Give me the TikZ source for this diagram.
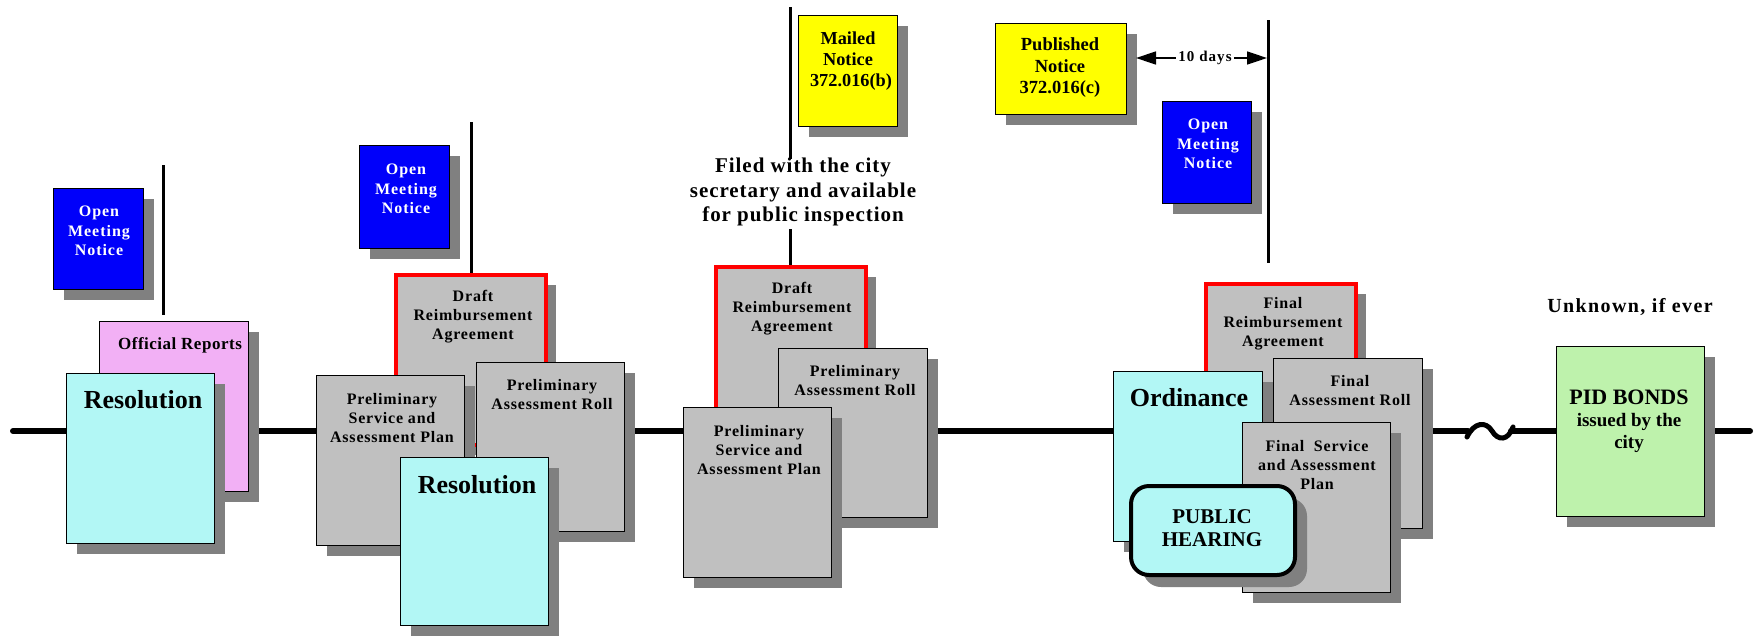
\documentclass[tikz,border=0pt]{standalone}
\usepackage{fontspec}
\setmainfont{Liberation Serif}
\usetikzlibrary{arrows.meta,shadows}

\definecolor{docgray}{RGB}{192,192,192}
\definecolor{shadowgray}{RGB}{128,128,128}
\definecolor{sheetcyan}{RGB}{178,247,245}
\definecolor{sheetpink}{RGB}{242,176,245}
\definecolor{sheetblue}{RGB}{0,0,250}
\definecolor{sheetyellow}{RGB}{255,255,0}
\definecolor{sheetgreen}{RGB}{190,242,172}
\definecolor{markred}{RGB}{255,0,0}

\tikzset{
  sheet/.style={draw=black, line width=1.2pt, inner sep=0pt, anchor=north west,
    drop shadow={shadow xshift=10pt, shadow yshift=-10pt, fill=shadowgray, opacity=1}},
  graysheet/.style={sheet, fill=docgray},
  redsheet/.style={sheet, fill=docgray, draw=markred, line width=3.5pt},
  cyansheet/.style={sheet, fill=sheetcyan},
  bluesheet/.style={sheet, fill=sheetblue},
  yellowsheet/.style={sheet, fill=sheetyellow},
  pinksheet/.style={sheet, fill=sheetpink},
  greensheet/.style={sheet, fill=sheetgreen},
  doctext/.style={align=center, inner sep=0pt,
    font=\fontsize{16}{19}\selectfont\bfseries\addfontfeature{LetterSpace=5}},
  noticetext/.style={align=center, inner sep=0pt, text=white,
    font=\fontsize{16}{19.5}\selectfont\bfseries\addfontfeature{LetterSpace=6}},
  yellowtext/.style={align=center, inner sep=0pt,
    font=\fontsize{18.3}{21}\selectfont\bfseries},
  titletext/.style={inner sep=0pt, font=\fontsize{26}{30}\selectfont\bfseries},
  timeline/.style={line width=6pt, line cap=round},
  marker/.style={line width=3pt},
}

% box from its top left corner (x1,y1) to bottom right corner (x2,y2)
\newcommand\sheetbox[6]{%
  \node[#1, minimum width={(#5-#3)*1pt}, minimum height={(#6-#4)*1pt}] (#2) at (#3,#4) {};}

\begin{document}
\begin{tikzpicture}[x=1pt, y=-1pt]
\useasboundingbox[fill=white] (0,0) rectangle (1756,635);

% main time line with a break before the bonds
\coordinate (tl0) at (13,431);
\coordinate (tl1) at (1468,431);
\coordinate (tl2) at (1511,431);
\coordinate (tl3) at (1750,431);
\draw[timeline] (tl0) -- (tl1);
\draw[timeline] (tl2) -- (tl3);
\draw[line width=5pt, line cap=round] (1467,437) .. controls (1474,422) and (1486,421) .. (1492,431)
  .. controls (1498,441) and (1508,441) .. (1513,427);

% ---- first resolution
\sheetbox{bluesheet}{omn1}{53}{188}{143}{289}
\node[noticetext] (omn1t) at (99,231) {Open\\Meeting\\Notice};
\sheetbox{pinksheet}{reports}{99}{321}{248}{491}
\coordinate (v1) at (163,165);
\draw[marker] (v1) -- ([yshift=6pt]v1 |- reports.north);
\node[inner sep=0pt, font=\fontsize{17}{20}\selectfont\bfseries\addfontfeature{LetterSpace=3}] (reportst) at (180,345) {Official Reports};
\sheetbox{cyansheet}{res1}{66}{373}{214}{543}
\node[titletext] (res1t) at (143,400) {Resolution};

% ---- second resolution
\sheetbox{bluesheet}{omn2}{359}{145}{449}{248}
\node[noticetext] (omn2t) at (406,189) {Open\\Meeting\\Notice};
\sheetbox{redsheet}{draft1}{394}{273}{544}{443}
\coordinate (v2) at (471,122);
\draw[marker] (v2) -- (v2 |- draft1.north);
\node[doctext] (draft1t) at (473,317) {Draft\\Reimbursement\\Agreement};
\sheetbox{graysheet}{psap1}{316}{375}{464}{545}
\node[doctext] (psap1t) at (392,418) {Preliminary\\Service and\\Assessment Plan};
\sheetbox{graysheet}{par1}{476}{362}{624}{531}
\node[doctext] (par1t) at (552,395) {Preliminary\\Assessment Roll};
\sheetbox{cyansheet}{res2}{400}{457}{548}{625}
\node[titletext] (res2t) at (477,485) {Resolution};

% ---- filing with the city secretary
\sheetbox{yellowsheet}{mailed}{798}{15}{897}{126}
\node[yellowtext] (mailedt) at (848,61) {Mailed\\Notice\\\hspace*{6pt}372.016(b)};
\node[align=center, inner sep=0pt,
  font=\fontsize{21}{24.5}\selectfont\bfseries\addfontfeature{LetterSpace=4.5}] (filed) at (803,192)
  {Filed with the city\\secretary and available\\for public inspection};
\sheetbox{redsheet}{draft2}{714}{265}{864}{435}
\coordinate (v3) at (790,7);
\draw[marker] (v3) -- ([yshift=-1pt]v3 |- filed.north);
\draw[marker] ([yshift=-3pt]filed.south -| v3) -- (v3 |- draft2.north);
\node[doctext] (draft2t) at (792,309) {Draft\\Reimbursement\\Agreement};
\sheetbox{graysheet}{par2}{778}{348}{927}{517}
\node[doctext] (par2t) at (855,381) {Preliminary\\Assessment Roll};
\sheetbox{graysheet}{psap2}{683}{407}{831}{577}
\node[doctext] (psap2t) at (759,450) {Preliminary\\Service and\\Assessment Plan};

% ---- public hearing and ordinance
\sheetbox{yellowsheet}{published}{995}{23}{1126}{114}
\node[align=center, inner sep=0pt, font=\fontsize{18.5}{21.5}\selectfont\bfseries] (publishedt) at (1060,68)
  {Published\\Notice\\372.016(c)};
\coordinate (v4) at (1268,20);
\coordinate (v4end) at (1268,263);
\draw[marker] (v4) -- (v4end);
\coordinate (arrl) at (1136,58);
\coordinate (arrr) at (1267,58);
\draw[line width=1.5pt, {Triangle[length=20pt,width=13pt]}-{Triangle[length=20pt,width=13pt]}] (arrl) -- (arrr);
\node[fill=white, inner sep=2pt, font=\fontsize{15}{18}\selectfont\bfseries\addfontfeature{LetterSpace=7}] (tendays) at (1205,58) {10 days};
\sheetbox{bluesheet}{omn3}{1162}{101}{1251}{203}
\node[noticetext] (omn3t) at (1208,144) {Open\\Meeting\\Notice};
\sheetbox{redsheet}{finalra}{1204}{282}{1354}{452}
\node[doctext] (finalrat) at (1283,324) {Final\\Reimbursement\\Agreement};
\sheetbox{cyansheet}{ordinance}{1113}{371}{1262}{541}
\node[titletext] (ordinancet) at (1189,398) {Ordinance};
\sheetbox{graysheet}{far}{1273}{358}{1422}{528}
\node[doctext] (fart) at (1350,391) {Final\\Assessment Roll};
\sheetbox{graysheet}{fsap}{1242}{422}{1390}{592}
\node[doctext] (fsapt) at (1317,465) {Final\ \ Service\\and Assessment\\Plan};
\node[draw=black, line width=4pt, fill=sheetcyan, rounded corners=18pt, inner sep=0pt, anchor=north west,
  minimum width=164pt, minimum height=89pt,
  drop shadow={shadow xshift=12pt, shadow yshift=-12pt, fill=shadowgray, opacity=1}] (hearing) at (1129,484) {};
\node[align=center, inner sep=0pt, font=\fontsize{21}{23}\selectfont\bfseries] (hearingt) at (1212,528) {PUBLIC\\HEARING};

% ---- bonds
\node[inner sep=0pt, font=\fontsize{20}{24}\selectfont\bfseries\addfontfeature{LetterSpace=7}] (unknown) at (1630,307) {Unknown, if ever};
\sheetbox{greensheet}{bonds}{1556}{346}{1704}{516}
\node[align=center, inner sep=0pt, font=\fontsize{19}{22}\selectfont\bfseries] (bondst) at (1629,421)
  {{\fontsize{22}{24}\selectfont PID BONDS}\\issued by the\\city};
\end{tikzpicture}
\end{document}
